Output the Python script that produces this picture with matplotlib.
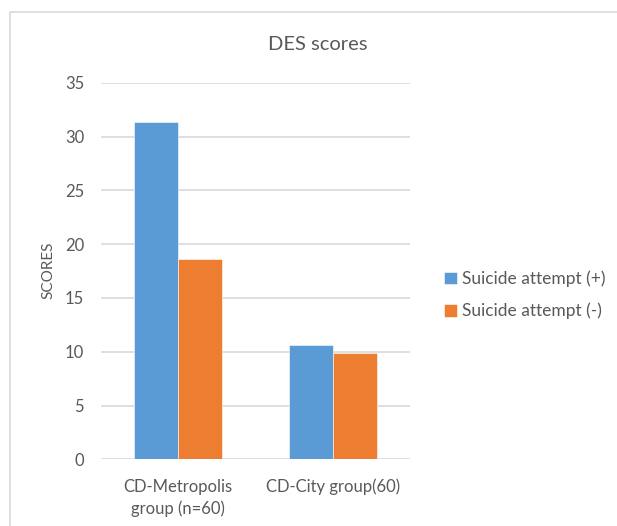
import numpy as np
import matplotlib.pyplot as plt
from matplotlib.lines import Line2D

plt.rcParams['font.family'] = ['Lato', 'DejaVu Sans']

groups = ['CD-Metropolis\ngroup (n=60)', 'CD-City group(60)']
attempt_pos = [31.35, 10.6]
attempt_neg = [18.65, 9.85]
series_names = ['Suicide attempt (+)', 'Suicide attempt (-)']

blue = '#5B9BD5'
orange = '#ED7D31'
txt = '#595959'

W, H = 617, 526
fig = plt.figure(figsize=(W / 100, H / 100), dpi=100)
ax = fig.add_axes([100.7 / W, 1 - 459.3 / H, (410 - 100.7) / W, (459.3 - 82.7) / H])

# outer chart frame (only top and left visible)
fig.add_artist(Line2D([10 / W, 10 / W, 1], [0, 1 - 12 / H, 1 - 12 / H],
                      color='#D9D9D9', lw=1.2, transform=fig.transFigure))

x = np.arange(len(groups))
bw = 0.285
ax.bar(x - bw / 2, attempt_pos, bw, color=blue, edgecolor='white', linewidth=0.4,
       label=series_names[0], zorder=3)
ax.bar(x + bw / 2, attempt_neg, bw, color=orange, edgecolor='white', linewidth=0.4,
       label=series_names[1], zorder=3)

ax.set_xlim(-0.5, 1.5)
ax.set_ylim(0, 35)
ax.set_yticks(np.arange(0, 36, 5))
ax.yaxis.grid(True, color='#D9D9D9', lw=1.2, zorder=0)
ax.set_axisbelow(True)
for s in ax.spines.values():
    s.set_visible(False)
ax.tick_params(length=0, labelsize=12, colors=txt, pad=12)
ax.tick_params(axis='x', pad=14)
ax.set_xticks(x)
ax.set_xticklabels(groups, linespacing=1.45)

fig.text(48 / W, 1 - 270 / H, 'SCORES', rotation=90, ha='center', va='center',
         fontsize=11, color=txt)
fig.text(318 / W, 1 - 44 / H, 'DES scores', ha='center', va='center',
         fontsize=14.5, color=txt)

ax.legend(loc='center left', bbox_to_anchor=(428 / W, 1 - 295 / H),
          bbox_transform=fig.transFigure, frameon=False, fontsize=12.5,
          labelcolor=txt, handlelength=0.75, handleheight=0.75, handletextpad=0.3,
          labelspacing=0.9)

fig.savefig('out.png', dpi=100)
